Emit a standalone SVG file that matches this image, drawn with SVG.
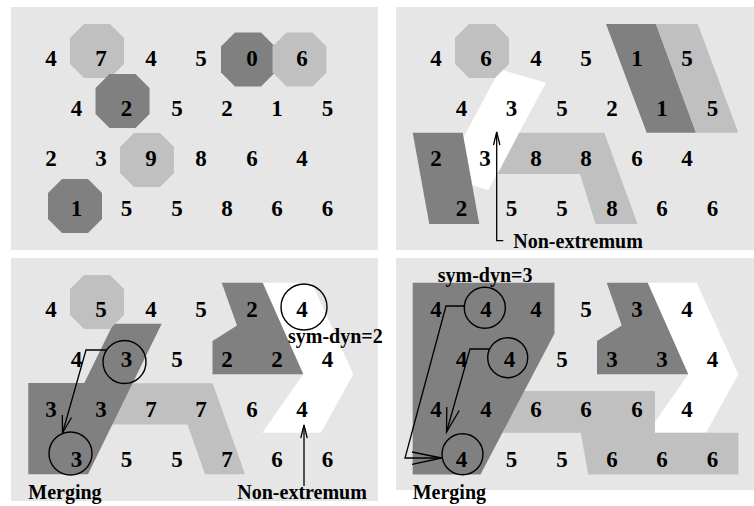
<svg xmlns="http://www.w3.org/2000/svg" width="754" height="506" viewBox="0 0 754 506">
<defs>
<style>
.bg{fill:#e6e6e6}
.lt{fill:#c0c0c0}
.dk{fill:#808080}
.wh{fill:#ffffff}
.d{font-family:"Liberation Serif","Times New Roman",serif;font-weight:bold;font-size:23px;text-anchor:middle;fill:#000}
.lb{font-family:"Liberation Serif","Times New Roman",serif;font-weight:bold;font-size:20px;fill:#000}
.c{fill:none;stroke:#000;stroke-width:1.4}
.ln{fill:none;stroke:#000;stroke-width:1.3}
</style>
<path id="oct" d="M-13,-27 L13,-27 L27,-13 L27,13 L13,27 L-13,27 L-27,13 L-27,-13 Z"/>
</defs>

<!-- Panel 1 -->
<g id="panel1">
<rect class="bg" x="11" y="7" width="367" height="243"/>
<g id="p1-oct7"><use href="#oct" class="lt" x="97" y="51"/></g>
<g id="p1-oct0"><use href="#oct" class="dk" x="248" y="59.5"/></g>
<g id="p1-oct6"><use href="#oct" class="lt" x="299.5" y="59.5"/></g>
<g id="p1-oct2"><use href="#oct" class="dk" x="122.5" y="101"/></g>
<g id="p1-oct9"><use href="#oct" class="lt" x="147" y="160"/></g>
<g id="p1-oct1"><use href="#oct" class="dk" x="75" y="206"/></g>
<g id="p1-text">
<text class="d" x="51" y="66">4</text><text class="d" x="101" y="66">7</text><text class="d" x="151" y="66">4</text><text class="d" x="201" y="66">5</text><text class="d" x="252" y="66">0</text><text class="d" x="302" y="66">6</text>
<text class="d" x="76.5" y="116">4</text><text class="d" x="126.5" y="116">2</text><text class="d" x="177" y="116">5</text><text class="d" x="227" y="116">2</text><text class="d" x="277" y="116">1</text><text class="d" x="327.5" y="116">5</text>
<text class="d" x="51" y="166">2</text><text class="d" x="101" y="166">3</text><text class="d" x="151" y="166">9</text><text class="d" x="201" y="166">8</text><text class="d" x="252" y="166">6</text><text class="d" x="302" y="166">4</text>
<text class="d" x="76.5" y="216">1</text><text class="d" x="126.5" y="216">5</text><text class="d" x="177" y="216">5</text><text class="d" x="227" y="216">8</text><text class="d" x="277" y="216">6</text><text class="d" x="327.5" y="216">6</text>
</g>
</g>

<!-- Panel 2 -->
<g id="panel2">
<rect class="bg" x="396" y="7" width="358" height="243"/>
<g id="p2-white"><polygon class="wh" points="500,69.3 546,82.7 488.3,190 442.3,176.7"/></g>
<g id="p2-dark2"><polygon class="dk" points="412.7,132.7 462.7,132.7 479.3,224 429.3,224"/></g>
<g id="p2-light8"><polygon class="lt" points="519.3,132.7 604.3,132.7 637.5,224 595.5,224 580,174 497.7,174"/></g>
<g id="p2-dark1"><polygon class="dk" points="606,24 656,24 696,132.7 646.7,132.7"/></g>
<g id="p2-light5"><polygon class="lt" points="656,24 697.7,24 738.3,132.7 696,132.7"/></g>
<g id="p2-oct6"><use href="#oct" class="lt" x="482" y="51"/></g>
<g id="p2-text">
<text class="d" x="436" y="66">4</text><text class="d" x="486" y="66">6</text><text class="d" x="536" y="66">4</text><text class="d" x="586" y="66">5</text><text class="d" x="637" y="66">1</text><text class="d" x="687" y="66">5</text>
<text class="d" x="461.5" y="116">4</text><text class="d" x="511.5" y="116">3</text><text class="d" x="562" y="116">5</text><text class="d" x="612" y="116">2</text><text class="d" x="662" y="116">1</text><text class="d" x="712.5" y="116">5</text>
<text class="d" x="436" y="166">2</text><text class="d" x="485" y="166">3</text><text class="d" x="536" y="166">8</text><text class="d" x="586" y="166">8</text><text class="d" x="637" y="166">6</text><text class="d" x="687" y="166">4</text>
<text class="d" x="461.5" y="216">2</text><text class="d" x="511.5" y="216">5</text><text class="d" x="562" y="216">5</text><text class="d" x="612" y="216">8</text><text class="d" x="662" y="216">6</text><text class="d" x="712.5" y="216">6</text>
<text class="lb" x="513.3" y="248">Non-extremum</text>
</g>
</g>

<!-- Panel 3 -->
<g id="panel3">
<rect class="bg" x="11" y="258" width="367" height="243"/>
<g id="p3-white"><polygon class="wh" points="262.3,282.7 311.7,282.7 353.3,374.3 321,432.7 262.3,432.7 303.3,374.3"/></g>
<g id="p3-dark2"><polygon class="dk" points="221.7,282.7 262.7,282.7 303.3,374.3 212.5,374.3 212.5,341 237,325.5"/></g>
<g id="p3-light7"><polygon class="lt" points="125,383.3 212.7,383.3 245,474.3 205,474.3 187.5,424.5 105,424.5"/></g>
<g id="p3-dark3"><polygon class="dk" points="113.3,323.7 161.7,323.7 88,474.3 28.3,474.3 28.3,383 84.3,383"/></g>
<g id="p3-oct5"><use href="#oct" class="lt" x="97" y="302"/></g>
<g id="p3-circles">
<circle class="c" cx="304" cy="307" r="23"/>
<circle class="c" cx="124.5" cy="362" r="21.5"/>
<circle class="c" cx="70.5" cy="453.5" r="21.5"/>
</g>
<g id="p3-text">
<text class="d" x="51" y="317">4</text><text class="d" x="101" y="317">5</text><text class="d" x="151" y="317">4</text><text class="d" x="201" y="317">5</text><text class="d" x="252" y="317">2</text><text class="d" x="302" y="317">4</text>
<text class="d" x="76.5" y="367">4</text><text class="d" x="126.5" y="367">3</text><text class="d" x="177" y="367">5</text><text class="d" x="227" y="367">2</text><text class="d" x="277" y="367">2</text><text class="d" x="327.5" y="367">4</text>
<text class="d" x="51" y="417">3</text><text class="d" x="101" y="417">3</text><text class="d" x="151" y="417">7</text><text class="d" x="201" y="417">7</text><text class="d" x="252" y="417">6</text><text class="d" x="302" y="417">4</text>
<text class="d" x="76.5" y="467">3</text><text class="d" x="126.5" y="467">5</text><text class="d" x="177" y="467">5</text><text class="d" x="227" y="467">7</text><text class="d" x="277" y="467">6</text><text class="d" x="327.5" y="467">6</text>
<text class="lb" x="288" y="343">sym-dyn=2</text>
<text class="lb" x="28.3" y="499">Merging</text>
<text class="lb" x="237.3" y="499">Non-extremum</text>
</g>
</g>

<!-- Panel 4 -->
<g id="panel4">
<rect class="bg" x="396" y="258" width="358" height="232"/>
<g id="p4-white"><polygon class="wh" points="647.3,282.7 696.7,282.7 738.3,374.3 706,432.7 647.3,432.7 688.3,374.3"/></g>
<g id="p4-dark3"><polygon class="dk" points="606.7,282.7 647.7,282.7 688.3,374.3 597,374.3 597,341 621.7,325.5"/></g>
<g id="p4-light6"><polygon class="lt" points="515,391 655,391 655,432.7 738.3,432.7 738.3,474.5 588.3,474.5 580.7,432.7 495,432.7"/></g>
<g id="p4-dark4"><polygon class="dk" points="412.7,282.7 554.5,282.7 554.5,333.5 480.5,474.5 412.7,474.5"/></g>
<g id="p4-circles">
<circle class="c" cx="484.8" cy="307.7" r="20.5"/>
<circle class="c" cx="507.7" cy="357.7" r="20"/>
<circle class="c" cx="462.5" cy="454.3" r="20.5"/>
</g>
<g id="p4-text">
<text class="d" x="436" y="317">4</text><text class="d" x="486" y="317">4</text><text class="d" x="536" y="317">4</text><text class="d" x="586" y="317">5</text><text class="d" x="637" y="317">3</text><text class="d" x="687" y="317">4</text>
<text class="d" x="461.5" y="367">4</text><text class="d" x="509.5" y="367">4</text><text class="d" x="562" y="367">5</text><text class="d" x="612" y="367">3</text><text class="d" x="662" y="367">3</text><text class="d" x="712.5" y="367">4</text>
<text class="d" x="436" y="417">4</text><text class="d" x="486" y="417">4</text><text class="d" x="536" y="417">6</text><text class="d" x="586" y="417">6</text><text class="d" x="637" y="417">6</text><text class="d" x="687" y="417">4</text>
<text class="d" x="461.5" y="467">4</text><text class="d" x="511.5" y="467">5</text><text class="d" x="562" y="467">5</text><text class="d" x="612" y="467">6</text><text class="d" x="662" y="467">6</text><text class="d" x="712.5" y="467">6</text>
<text class="lb" x="437.7" y="282">sym-dyn=3</text>
<text class="lb" x="412.7" y="499">Merging</text>
</g>
</g>

<!-- Connectors -->
<g id="connectors">
<polyline class="ln" points="496.7,132 496.7,240.7 503.3,240.7"/>
<polyline class="ln" points="493.5,145 496.7,132 499.9,145"/>
<polyline class="ln" points="304,486 304,425"/>
<polyline class="ln" points="300.8,438 304,425 307.2,438"/>
<polyline class="ln" points="106.7,350 86,350 62.5,433"/>
<polyline class="ln" points="62.3,415 62.5,433 71.5,417.5"/>
<polyline class="ln" points="464.4,306 446,306 405,458 441.5,458"/>
<polyline class="ln" points="412,452 441.5,458 412,464.3"/>
<polyline class="ln" points="489.7,349 470,349 446.5,432"/>
<polyline class="ln" points="446.8,407 446.5,432 459.3,410.5"/>
</g>
</svg>
